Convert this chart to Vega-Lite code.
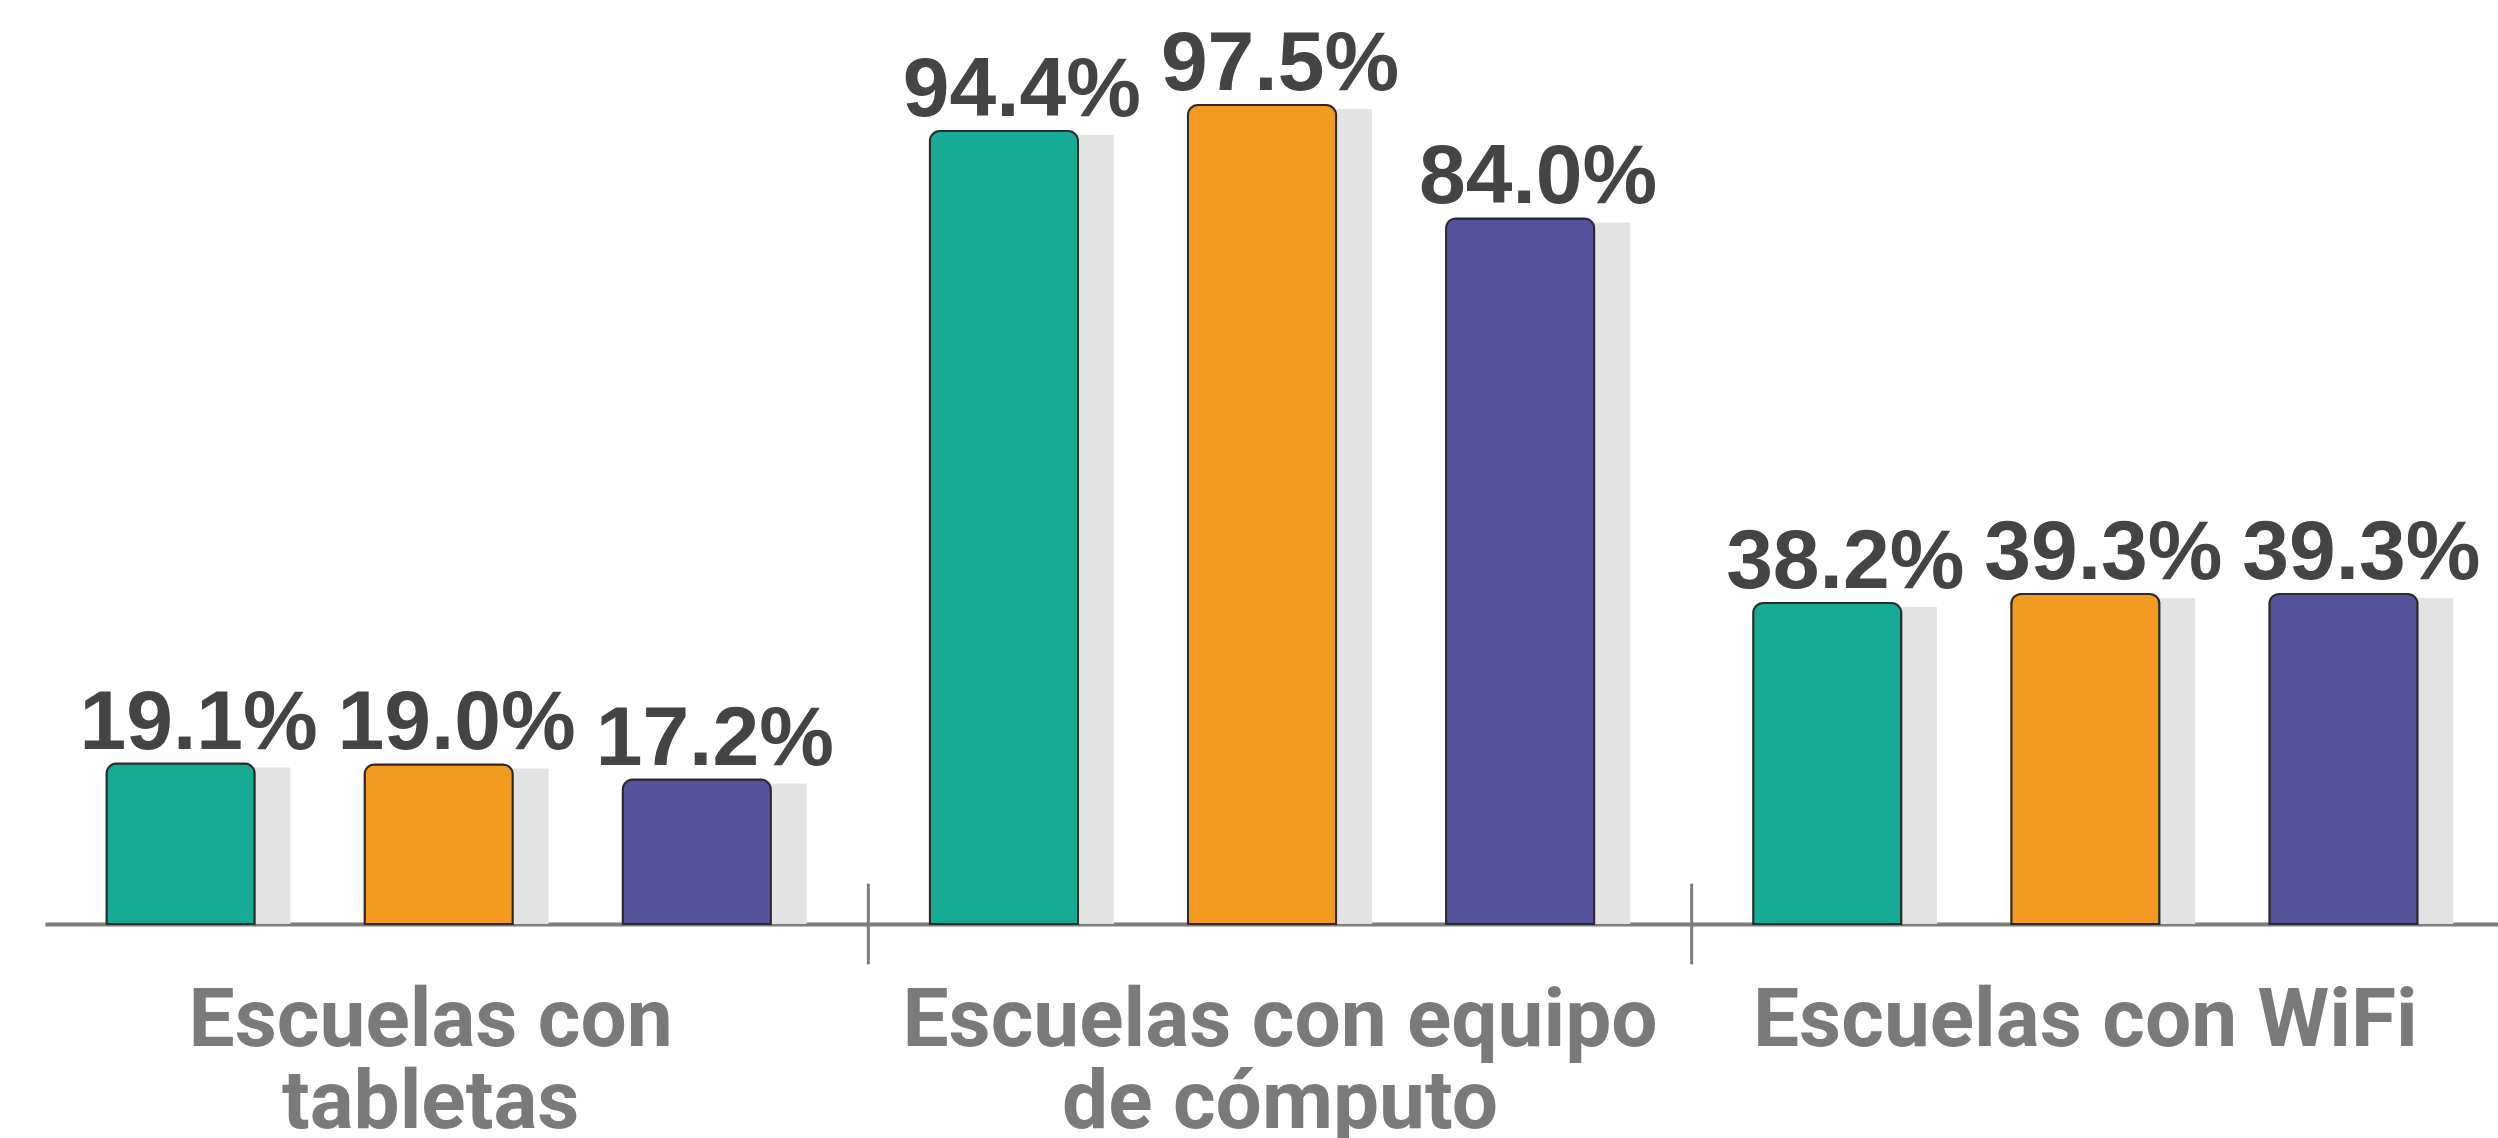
{
  "$schema": "https://vega.github.io/schema/vega-lite/v6.json",
  "width": 2453,
  "height": 840,
  "autosize": {"type": "none"},
  "padding": {"left": 45, "top": 84, "right": 0, "bottom": 214},
  "background": "white",
  "config": {"view": {"stroke": null}},
  "data": {"values": [
    {"categoria": "Escuelas con tabletas", "serie": "1", "valor": 19.1},
    {"categoria": "Escuelas con tabletas", "serie": "2", "valor": 19.0},
    {"categoria": "Escuelas con tabletas", "serie": "3", "valor": 17.2},
    {"categoria": "Escuelas con equipo de cómputo", "serie": "1", "valor": 94.4},
    {"categoria": "Escuelas con equipo de cómputo", "serie": "2", "valor": 97.5},
    {"categoria": "Escuelas con equipo de cómputo", "serie": "3", "valor": 84.0},
    {"categoria": "Escuelas con WiFi", "serie": "1", "valor": 38.2},
    {"categoria": "Escuelas con WiFi", "serie": "2", "valor": 39.3},
    {"categoria": "Escuelas con WiFi", "serie": "3", "valor": 39.3}
  ]},
  "transform": [{"calculate": "format(datum.valor, '.1f') + '%'", "as": "etiqueta"}],
  "resolve": {"scale": {"xOffset": "independent"}},
  "layer": [
    {
      "mark": {"type": "bar", "color": "#e3e3e3", "yOffset": 4, "y2Offset": 0, "cornerRadiusTopRight": 6},
      "encoding": {
        "x": {"field": "categoria", "type": "nominal", "sort": ["Escuelas con tabletas", "Escuelas con equipo de cómputo", "Escuelas con WiFi"],
          "scale": {"paddingInner": 0, "paddingOuter": 0, "range": [0, 2470]},
          "axis": {"title": null, "orient": "bottom", "domainColor": "#7d7d7d", "domainWidth": 4, "ticks": false, "tickSize": 0, "labelAngle": 0,
            "labelFont": "Roboto", "labelFontWeight": "bold", "labelFontSize": 82, "labelColor": "#7a7a7a",
            "labelPadding": 121, "labelBaseline": "alphabetic", "labelLineHeight": 82, "labelLimit": 0, "labelOverlap": false, "labelFlush": false, "labelBound": false,
            "labelOffset": {"expr": "datum.value == 'Escuelas con tabletas' ? -26 : datum.value == 'Escuelas con WiFi' ? -18 : 0"},
            "labelExpr": "datum.value == 'Escuelas con tabletas' ? ['Escuelas con', 'tabletas'] : datum.value == 'Escuelas con equipo de cómputo' ? ['Escuelas con equipo', 'de cómputo'] : datum.value"}},
        "xOffset": {"field": "serie", "type": "nominal", "scale": {"type": "band", "paddingInner": 0.426, "paddingOuter": 0.308, "align": 0.613}},
        "y": {"field": "valor", "type": "quantitative", "scale": {"domain": [0, 100]}, "axis": null}
      }
    },
    {
      "mark": {"type": "bar", "stroke": "#2b2b2b", "strokeWidth": 2, "cornerRadiusTopLeft": 10, "cornerRadiusTopRight": 10},
      "encoding": {
        "x": {"field": "categoria", "type": "nominal", "sort": ["Escuelas con tabletas", "Escuelas con equipo de cómputo", "Escuelas con WiFi"]},
        "xOffset": {"field": "serie", "type": "nominal", "scale": {"type": "band", "paddingInner": 0.426, "paddingOuter": 0.308, "align": 0.387}},
        "y": {"field": "valor", "type": "quantitative"},
        "color": {"field": "serie", "type": "nominal", "scale": {"range": ["#16ab94", "#f39a21", "#55519b"]}, "legend": null}
      }
    },
    {
      "mark": {"type": "text", "font": "Liberation Sans", "fontWeight": "bold", "fontSize": 84, "color": "#444444", "baseline": "alphabetic", "dy": -15},
      "encoding": {
        "x": {"field": "categoria", "type": "nominal", "sort": ["Escuelas con tabletas", "Escuelas con equipo de cómputo", "Escuelas con WiFi"]},
        "xOffset": {"field": "serie", "type": "nominal", "bandPosition": 0.5, "scale": {"type": "band", "paddingInner": 0.426, "paddingOuter": 0.308, "align": 0.5}},
        "y": {"field": "valor", "type": "quantitative"},
        "text": {"field": "etiqueta"}
      }
    },
    {
      "transform": [{"filter": "datum.serie == '1' && datum.categoria != 'Escuelas con tabletas'"}],
      "mark": {"type": "rule", "color": "#7d7d7d", "strokeWidth": 3},
      "encoding": {
        "x": {"field": "categoria", "type": "nominal", "bandPosition": 0, "sort": ["Escuelas con tabletas", "Escuelas con equipo de cómputo", "Escuelas con WiFi"]},
        "y": {"datum": -4.8, "type": "quantitative"},
        "y2": {"datum": 4.8}
      }
    }
  ]
}
